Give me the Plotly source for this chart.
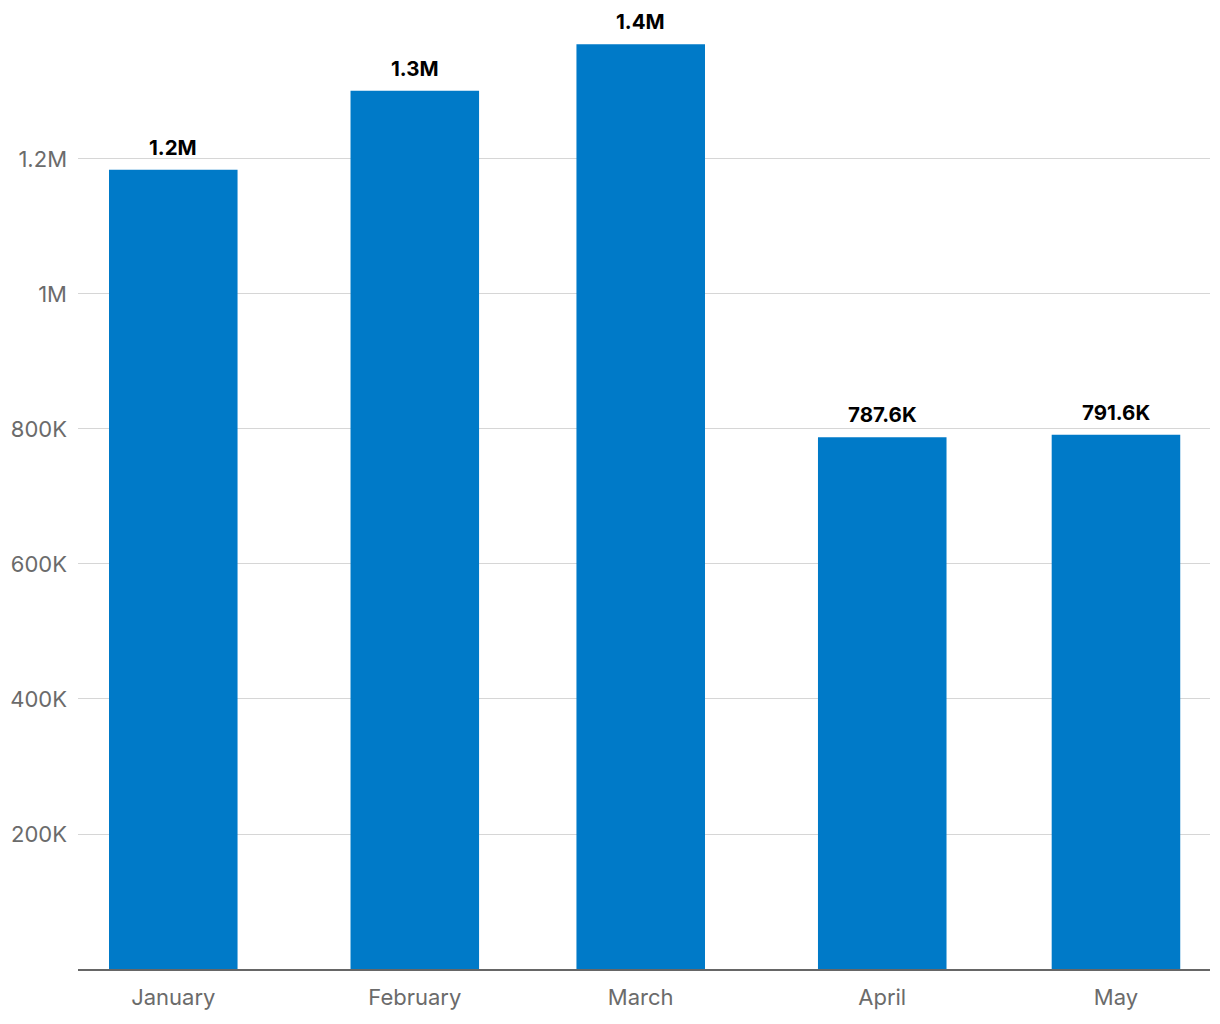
import plotly.graph_objects as go

months = ["2024-01-01", "2024-02-01", "2024-03-01", "2024-04-01", "2024-05-01"]
month_labels = ["January", "February", "March", "April", "May"]
values = [1184000, 1301000, 1370000, 787600, 791600]
ytick_vals = [200000, 400000, 600000, 800000, 1000000, 1200000]
ytick_text = ["200K", "400K", "600K", "800K", "1M", "1.2M"]


def fmt(v):
    if v >= 1e6:
        return f"{v/1e6:.1f}M"
    return f"{v/1e3:.1f}K"


labels = [fmt(v) for v in values]
FONT = "Inter, Lato, sans-serif"

fig = go.Figure()
fig.add_trace(go.Bar(
    x=months, y=values,
    width=[16.5 * 86400000] * len(values),
    marker=dict(color="#007ac8", line=dict(width=0)),
    hoverinfo="x+y",
))

for m, v, t in zip(months, values, labels):
    fig.add_annotation(
        x=m, y=v, text=t, showarrow=False,
        xanchor="center", yanchor="bottom", yshift=8,
        font=dict(family=FONT, size=20.5, color="#000000", weight="bold"),
    )

fig.update_layout(
    width=1220, height=1024,
    margin=dict(l=78, r=10, t=10, b=55),
    paper_bgcolor="white", plot_bgcolor="white",
    showlegend=False,
    font=dict(family=FONT),
    xaxis=dict(
        type="date",
        range=["2023-12-19 18:30", "2024-05-13 01:40"],
        tickvals=months, ticktext=month_labels,
        tickfont=dict(size=22, color="#6b6b6b", family=FONT),
        showgrid=False, showline=True, linecolor="#666666", linewidth=2,
        ticks="", ticklen=0, ticklabelstandoff=8,
    ),
    yaxis=dict(
        range=[0, 1420700],
        tickvals=ytick_vals, ticktext=ytick_text,
        tickfont=dict(size=22, color="#6b6b6b", family=FONT),
        showgrid=True, gridcolor="#d6d6d6", gridwidth=1,
        zeroline=False, showline=False, ticks="", ticklabelstandoff=10,
    ),
)

fig.write_html("out.html")
